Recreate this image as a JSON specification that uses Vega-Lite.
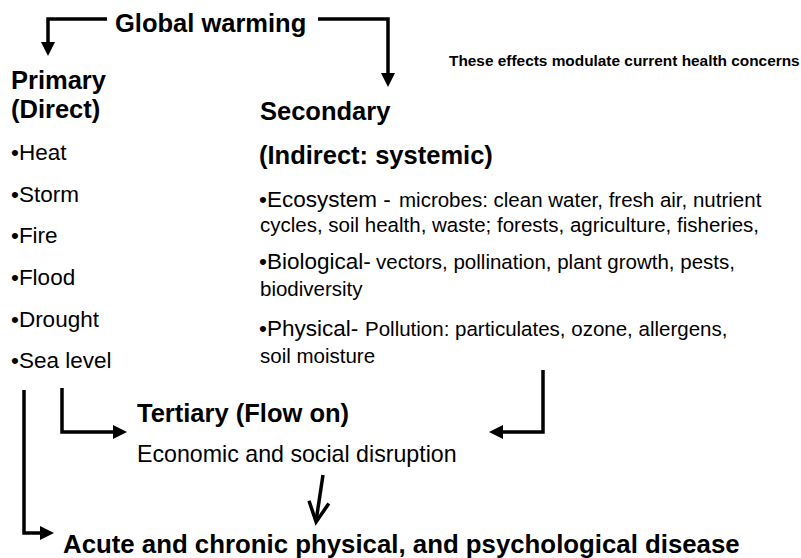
{
  "$schema": "https://vega.github.io/schema/vega-lite/v6.json",
  "width": 801,
  "height": 558,
  "padding": 0,
  "autosize": {"type": "none"},
  "background": "white",
  "config": {"view": {"stroke": null}, "font": "Liberation Sans"},
  "datasets": {
    "texts": [
      {"text": "Global warming", "x": 115, "y": 32, "role": "heading"},
      {"text": "These effects modulate current health concerns", "x": 449, "y": 66, "role": "note"},
      {"text": "Primary", "x": 11, "y": 89, "role": "heading"},
      {"text": "(Direct)", "x": 11, "y": 118, "role": "heading"},
      {"text": "Secondary", "x": 260, "y": 119.5, "role": "heading"},
      {"text": "(Indirect: systemic)", "x": 259, "y": 164, "role": "heading"},
      {"text": "•Heat", "x": 11, "y": 160, "role": "hazard"},
      {"text": "•Storm", "x": 11, "y": 201.7, "role": "hazard"},
      {"text": "•Fire", "x": 11, "y": 243.3, "role": "hazard"},
      {"text": "•Flood", "x": 11, "y": 285, "role": "hazard"},
      {"text": "•Drought", "x": 11, "y": 326.7, "role": "hazard"},
      {"text": "•Sea level", "x": 11, "y": 368, "role": "hazard"},
      {"text": "•Ecosystem -", "x": 259, "y": 207, "role": "pathway"},
      {"text": "microbes: clean water, fresh air, nutrient", "x": 399, "y": 207, "role": "detail"},
      {"text": "cycles, soil health, waste; forests, agriculture, fisheries,", "x": 260, "y": 232, "role": "detail"},
      {"text": "•Biological-", "x": 259, "y": 269, "role": "pathway"},
      {"text": "vectors, pollination, plant growth, pests,", "x": 376, "y": 269, "role": "detail"},
      {"text": "biodiversity", "x": 260, "y": 296, "role": "detail"},
      {"text": "•Physical-", "x": 259, "y": 336, "role": "pathway"},
      {"text": "Pollution: particulates, ozone, allergens,", "x": 365, "y": 336, "role": "detail"},
      {"text": "soil moisture", "x": 260, "y": 363, "role": "detail"},
      {"text": "Tertiary (Flow on)", "x": 137, "y": 422, "role": "heading"},
      {"text": "Economic and social disruption", "x": 137, "y": 462, "role": "outcome"},
      {"text": "Acute and chronic physical, and psychological disease", "x": 63, "y": 553, "role": "bottom"}
    ],
    "paths": [
      {"path": "A", "i": 0, "x": 107, "y": 19},
      {"path": "A", "i": 1, "x": 48, "y": 19},
      {"path": "A", "i": 2, "x": 48, "y": 46},
      {"path": "B", "i": 0, "x": 318, "y": 19},
      {"path": "B", "i": 1, "x": 388, "y": 19},
      {"path": "B", "i": 2, "x": 388, "y": 78},
      {"path": "C", "i": 0, "x": 24, "y": 390},
      {"path": "C", "i": 1, "x": 24, "y": 533},
      {"path": "C", "i": 2, "x": 44, "y": 533},
      {"path": "D", "i": 0, "x": 62, "y": 388},
      {"path": "D", "i": 1, "x": 62, "y": 432},
      {"path": "D", "i": 2, "x": 117, "y": 432},
      {"path": "E", "i": 0, "x": 543, "y": 370},
      {"path": "E", "i": 1, "x": 543, "y": 432},
      {"path": "E", "i": 2, "x": 499, "y": 432},
      {"path": "F", "i": 0, "x": 323, "y": 475},
      {"path": "F", "i": 1, "x": 316.2, "y": 520}
    ],
    "heads": [
      {"x": 48, "y": 49, "dir": "down"},
      {"x": 388, "y": 80, "dir": "down"},
      {"x": 47, "y": 533, "dir": "right"},
      {"x": 120, "y": 432, "dir": "right"},
      {"x": 496, "y": 432, "dir": "left"}
    ],
    "vheads": [
      {"x": 317.5, "y": 512}
    ]
  },
  "encoding": {
    "x": {"field": "x", "type": "quantitative", "scale": {"domain": [0, 801], "nice": false, "zero": false}, "axis": null},
    "y": {"field": "y", "type": "quantitative", "scale": {"domain": [0, 558], "nice": false, "zero": false, "reverse": true}, "axis": null}
  },
  "layer": [
    {
      "data": {"name": "paths"},
      "mark": {"type": "line", "color": "black", "strokeWidth": 3.5, "strokeJoin": "miter", "strokeCap": "butt"},
      "encoding": {"detail": {"field": "path"}, "order": {"field": "i", "type": "quantitative"}}
    },
    {
      "data": {"name": "heads"},
      "mark": {"type": "point", "filled": true, "color": "black", "size": 196, "opacity": 1},
      "encoding": {
        "shape": {"field": "dir", "type": "nominal", "legend": null,
          "scale": {"domain": ["down", "right", "left"], "range": ["M-1,-1L1,-1L0,1Z", "M-1,-1L1,0L-1,1Z", "M1,-1L-1,0L1,1Z"]}}
      }
    },
    {
      "data": {"name": "vheads"},
      "mark": {"type": "point", "filled": false, "color": "black", "strokeWidth": 3.5, "size": 400, "angle": 8, "opacity": 1, "shape": "M-1,-1L0,1L1,-1", "strokeJoin": "miter"}
    },
    {
      "data": {"name": "texts"},
      "transform": [{"filter": "datum.role === 'heading'"}],
      "mark": {"type": "text", "align": "left", "baseline": "alphabetic", "fontSize": 25.5, "fontWeight": "bold", "color": "black"},
      "encoding": {"text": {"field": "text"}}
    },
    {
      "data": {"name": "texts"},
      "transform": [{"filter": "datum.role === 'bottom'"}],
      "mark": {"type": "text", "align": "left", "baseline": "alphabetic", "fontSize": 25.8, "fontWeight": "bold", "color": "black"},
      "encoding": {"text": {"field": "text"}}
    },
    {
      "data": {"name": "texts"},
      "transform": [{"filter": "datum.role === 'note'"}],
      "mark": {"type": "text", "align": "left", "baseline": "alphabetic", "fontSize": 15.4, "fontWeight": "bold", "color": "black"},
      "encoding": {"text": {"field": "text"}}
    },
    {
      "data": {"name": "texts"},
      "transform": [{"filter": "datum.role === 'hazard'"}],
      "mark": {"type": "text", "align": "left", "baseline": "alphabetic", "fontSize": 22.5, "color": "black"},
      "encoding": {"text": {"field": "text"}}
    },
    {
      "data": {"name": "texts"},
      "transform": [{"filter": "datum.role === 'pathway'"}],
      "mark": {"type": "text", "align": "left", "baseline": "alphabetic", "fontSize": 22.5, "color": "black"},
      "encoding": {"text": {"field": "text"}}
    },
    {
      "data": {"name": "texts"},
      "transform": [{"filter": "datum.role === 'detail'"}],
      "mark": {"type": "text", "align": "left", "baseline": "alphabetic", "fontSize": 20.5, "color": "black"},
      "encoding": {"text": {"field": "text"}}
    },
    {
      "data": {"name": "texts"},
      "transform": [{"filter": "datum.role === 'outcome'"}],
      "mark": {"type": "text", "align": "left", "baseline": "alphabetic", "fontSize": 23.2, "color": "black"},
      "encoding": {"text": {"field": "text"}}
    }
  ]
}
